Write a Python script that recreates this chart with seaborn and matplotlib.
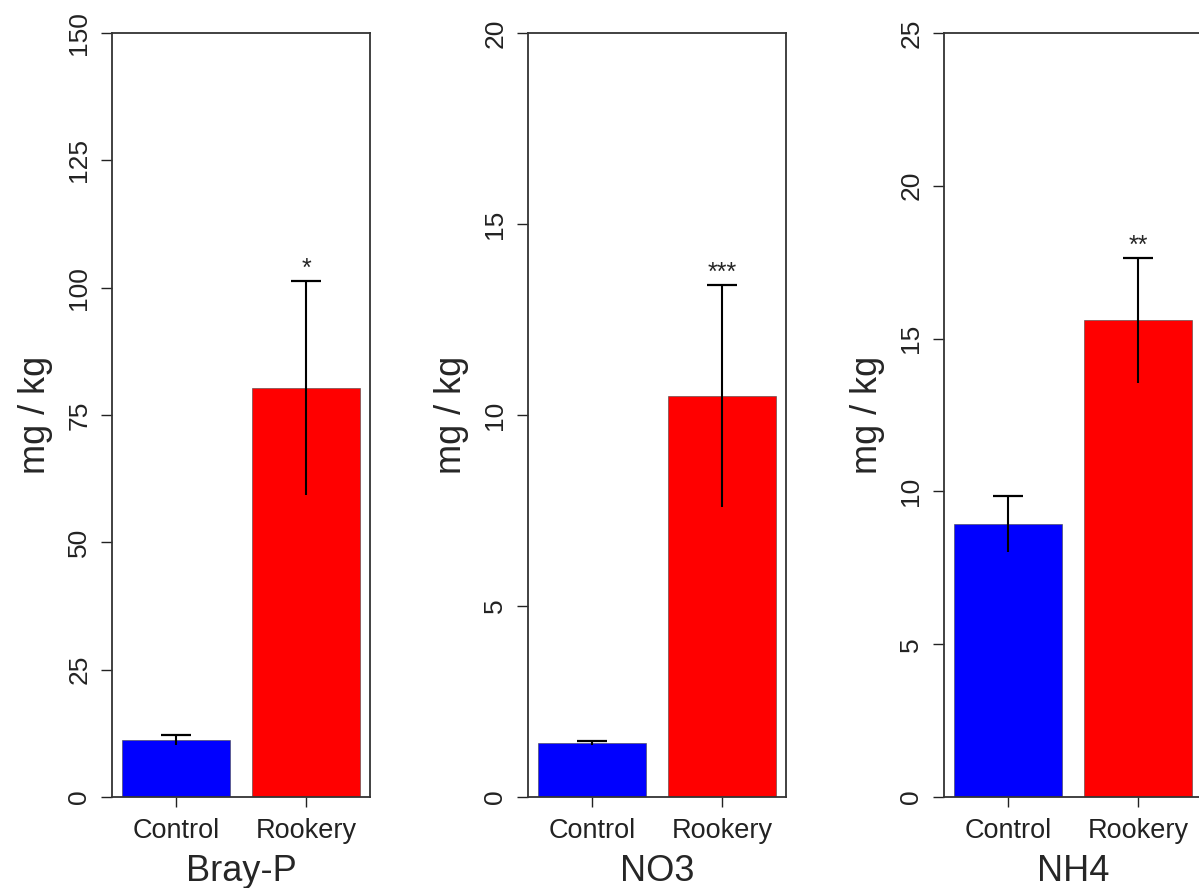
import seaborn as sns
import matplotlib.pyplot as plt
import pandas as pd

# Data
groups = ["Control", "Rookery"]
panels = ["Bray-P", "NO3", "NH4"]
bray_p_mean = [11.2, 80.3]
bray_p_err = [0.9, 21.0]
no3_mean = [1.41, 10.5]
no3_err = [0.05, 2.9]
nh4_mean = [8.93, 15.6]
nh4_err = [0.92, 2.05]
stars = ["*", "***", "**"]
y_max = [150, 20, 25]
y_step = [25, 5, 5]

means = [bray_p_mean, no3_mean, nh4_mean]
errs = [bray_p_err, no3_err, nh4_err]
bar_colors = {"Control": "#0000ff", "Rookery": "#ff0000"}

sns.set_theme(style="white")
plt.rcParams["font.family"] = ["Liberation Sans", "DejaVu Sans"]

fig = plt.figure(figsize=(11.99, 8.88), dpi=100)
lefts = [112, 528, 944]

for i, name in enumerate(panels):
    ax = fig.add_axes([lefts[i] / 1199, 91 / 888, 258 / 1199, 764 / 888])
    df = pd.DataFrame({"group": groups, "value": means[i], "err": errs[i]})
    df["top"] = df["value"] + df["err"]
    sns.barplot(data=df, x="group", y="value", hue="group", palette=bar_colors,
                saturation=1, width=0.833, errorbar=None, legend=False, ax=ax,
                edgecolor="#444444", linewidth=0.4)
    xs = list(range(len(groups)))
    # whisker both ways, cap drawn only on the upper end
    ax.errorbar(xs, df["value"], yerr=[df["err"], df["err"]], fmt="none",
                ecolor="black", elinewidth=1.5, capsize=0)
    ax.plot(xs, df["top"], ls="none", marker="_", markersize=22,
            markeredgewidth=1.6, color="black")
    ax.annotate(stars[i], (1, df["top"].iloc[1]), xytext=(0, 0),
                textcoords="offset points", ha="center", va="bottom", fontsize=18)

    ax.set_xlim(-0.49, 1.49)
    ax.set_ylim(0, y_max[i])
    ax.set_yticks(range(0, y_max[i] + 1, y_step[i]))
    ax.tick_params(axis="y", left=True, length=8, width=1, pad=7,
                   labelsize=19, labelrotation=90, colors="#222222")
    for lab in ax.get_yticklabels():
        lab.set_va("center")
    ax.tick_params(axis="x", bottom=True, length=7, width=1, pad=8,
                   labelsize=19.5, colors="#222222")
    ax.set_ylabel("mg / kg", fontsize=26, labelpad=10)
    ax.set_xlabel(name, fontsize=26, labelpad=7)
    for s in ax.spines.values():
        s.set_color("#333333")
        s.set_linewidth(1.3)

fig.savefig("out.png", dpi=100)
